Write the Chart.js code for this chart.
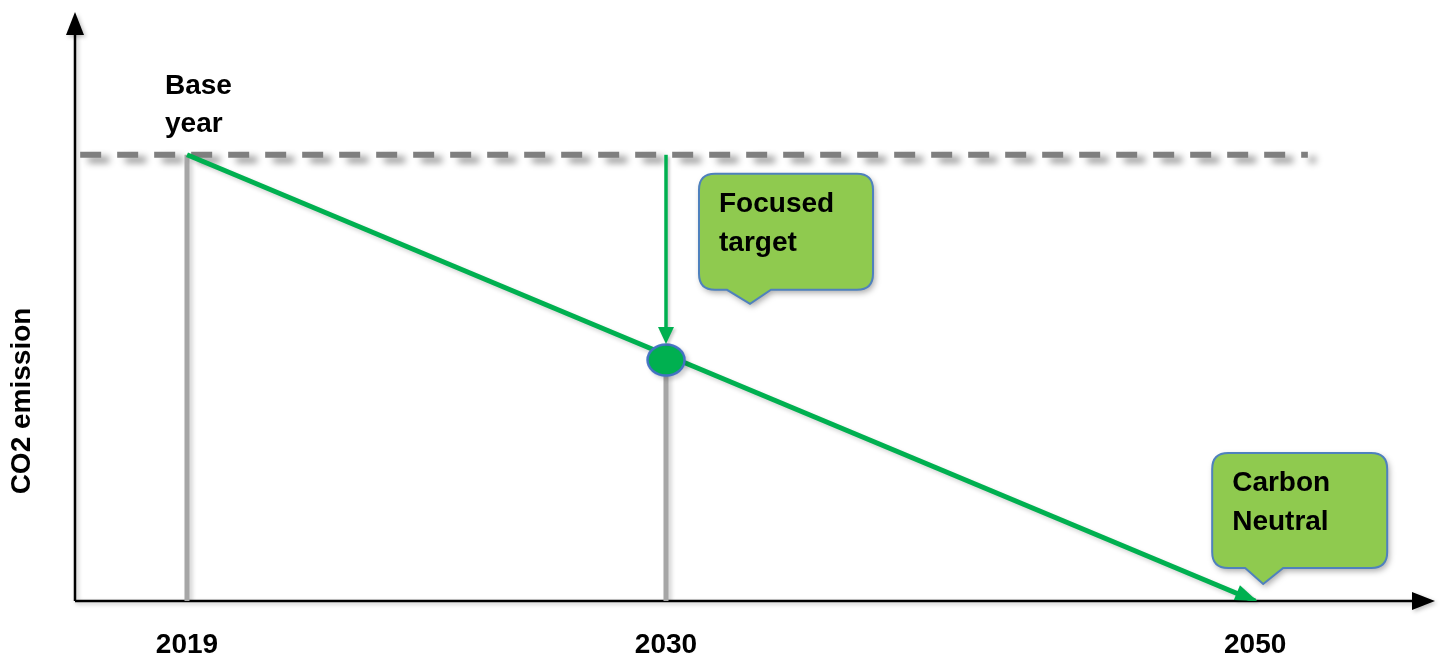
<!DOCTYPE html>
<html>
<head>
  <title>CO2 Emission Pathway</title>
  <script src="https://cdn.jsdelivr.net/npm/chart.js"></script>
  <style>
    html, body {
      margin: 0;
      padding: 0;
      background: white;
    }

    #wrap {
      width: 1447px;
      height: 663px;
    }
  </style>
</head>
<body>

  <div id="wrap"><canvas id="pathChart"></canvas></div>

  <script>
    // milestones along the timeline (spacing is schematic, not to scale in years)
    const years = ['2019', '2030', '2050'];
    const stagePos = [0, 1, 2.23];
    const emissions = [100, 54, 0];
    const labels = [['Base', 'year'], ['Focused', 'target'], ['Carbon', 'Neutral']];
    const refLineEnd = 2.34;

    const GREEN = '#00b050';
    const GREY = '#a6a6a6';
    const FONT = "'Liberation Sans', Arial, sans-serif";

    Chart.defaults.font.family = FONT;

    // oval marker for the 2030 target
    const targetMarker = document.createElement('canvas');
    targetMarker.width = 42;
    targetMarker.height = 36;
    (function () {
      const m = targetMarker.getContext('2d');
      m.beginPath();
      m.ellipse(21, 18, 18.5, 15.5, 0, 0, Math.PI * 2);
      m.fillStyle = GREEN;
      m.fill();
      m.strokeStyle = '#4472c4';
      m.lineWidth = 2.5;
      m.stroke();
    })();

    function arrowHead(ctx, x, y, angle, len, half, color) {
      ctx.save();
      ctx.translate(x, y);
      ctx.rotate(angle);
      ctx.fillStyle = color;
      ctx.beginPath();
      ctx.moveTo(0, 0);
      ctx.lineTo(-len, -half);
      ctx.lineTo(-len, half);
      ctx.closePath();
      ctx.fill();
      ctx.restore();
    }

    function callout(ctx, bx, by, w, h, baseL, baseR, tipX, tipY, lines) {
      const r = 16;
      ctx.save();
      ctx.shadowColor = 'rgba(0,0,0,0.35)';
      ctx.shadowBlur = 6;
      ctx.shadowOffsetX = 2;
      ctx.shadowOffsetY = 3;
      ctx.beginPath();
      ctx.moveTo(bx + r, by);
      ctx.lineTo(bx + w - r, by);
      ctx.quadraticCurveTo(bx + w, by, bx + w, by + r);
      ctx.lineTo(bx + w, by + h - r);
      ctx.quadraticCurveTo(bx + w, by + h, bx + w - r, by + h);
      ctx.lineTo(baseR, by + h);
      ctx.lineTo(tipX, tipY);
      ctx.lineTo(baseL, by + h);
      ctx.lineTo(bx + r, by + h);
      ctx.quadraticCurveTo(bx, by + h, bx, by + h - r);
      ctx.lineTo(bx, by + r);
      ctx.quadraticCurveTo(bx, by, bx + r, by);
      ctx.closePath();
      ctx.fillStyle = '#8fca4f';
      ctx.fill();
      ctx.shadowColor = 'transparent';
      ctx.strokeStyle = '#4f81bd';
      ctx.lineWidth = 2;
      ctx.stroke();
      ctx.restore();

      ctx.save();
      ctx.fillStyle = '#000';
      ctx.font = 'bold 28px ' + FONT;
      ctx.textBaseline = 'alphabetic';
      ctx.fillText(lines[0], bx + 20, by + 38);
      ctx.fillText(lines[1], bx + 20, by + 77);
      ctx.restore();
    }

    // soft drop shadow on the line datasets; the dashed base line gets a heavier one
    const shadowPlugin = {
      id: 'lineShadow',
      beforeDatasetDraw(chart, args) {
        const ctx = chart.ctx;
        ctx.save();
        const strong = args.meta.dataset && args.meta.dataset.options.borderDash.length > 0;
        ctx.shadowColor = strong ? 'rgba(0,0,0,0.45)' : 'rgba(0,0,0,0.18)';
        ctx.shadowBlur = strong ? 7 : 4;
        ctx.shadowOffsetX = strong ? 8 : 3;
        ctx.shadowOffsetY = strong ? 5 : 3;
      },
      afterDatasetDraw(chart) {
        chart.ctx.restore();
      }
    };

    const axesPlugin = {
      id: 'arrowAxes',
      beforeDatasetsDraw(chart) {
        const ctx = chart.ctx;
        const { left, right, top, bottom } = chart.chartArea;
        ctx.save();
        ctx.shadowColor = 'rgba(0,0,0,0.25)';
        ctx.shadowBlur = 4;
        ctx.shadowOffsetX = 2;
        ctx.shadowOffsetY = 2;
        ctx.strokeStyle = '#000';
        ctx.lineWidth = 2.5;
        ctx.beginPath();
        ctx.moveTo(left, bottom);
        ctx.lineTo(left, top + 18);
        ctx.moveTo(left, bottom);
        ctx.lineTo(right - 18, bottom);
        ctx.stroke();
        arrowHead(ctx, left, top, -Math.PI / 2, 23, 9, '#000');
        arrowHead(ctx, right, bottom, 0, 23, 9, '#000');
        ctx.restore();

        // y axis title
        ctx.save();
        ctx.translate(22, 401);
        ctx.rotate(-Math.PI / 2);
        ctx.font = 'bold 28px ' + FONT;
        ctx.fillStyle = '#000';
        ctx.textAlign = 'center';
        ctx.textBaseline = 'middle';
        ctx.fillText('CO2 emission', 0, 0);
        ctx.restore();
      },
      afterDatasetsDraw(chart) {
        const ctx = chart.ctx;
        const px = v => chart.scales.x.getPixelForValue(v);
        const py = v => chart.scales.y.getPixelForValue(v);

        // arrowhead at the end of the reduction path
        const x0 = px(stagePos[0]), y0 = py(emissions[0]);
        const x2 = px(stagePos[2]), y2 = py(emissions[2]);
        ctx.save();
        ctx.shadowColor = 'rgba(0,0,0,0.2)';
        ctx.shadowBlur = 3;
        ctx.shadowOffsetX = 2;
        ctx.shadowOffsetY = 2;
        arrowHead(ctx, x2 + 2, y2, Math.atan2(y2 - y0, x2 - x0), 22, 8, GREEN);

        // drop arrow from the base level down to the 2030 target
        const x1 = px(stagePos[1]);
        const tipY = py(emissions[1]) - 16;
        ctx.strokeStyle = GREEN;
        ctx.lineWidth = 3.5;
        ctx.beginPath();
        ctx.moveTo(x1, py(emissions[0]));
        ctx.lineTo(x1, tipY - 14);
        ctx.stroke();
        arrowHead(ctx, x1, tipY, Math.PI / 2, 17, 8, GREEN);
        ctx.restore();

        // base year label
        ctx.save();
        ctx.font = 'bold 28px ' + FONT;
        ctx.fillStyle = '#000';
        ctx.fillText(labels[0][0], x0 - 22, y0 - 61);
        ctx.fillText(labels[0][1], x0 - 22, y0 - 23);
        ctx.restore();

        // callouts
        const ty = py(emissions[0]);
        callout(ctx, x1 + 33, ty + 19, 174, 116, x1 + 61, x1 + 105, x1 + 84, ty + 149, labels[1]);
        const cx = x2 - 43, cy = y2 - 148;
        callout(ctx, cx, cy, 175, 115, cx + 33, cx + 71, cx + 51, cy + 131, labels[2]);
      }
    };

    // Chart.js paints the first dataset last, so the marker is listed first
    const ctx = document.getElementById('pathChart').getContext('2d');
    const pathChart = new Chart(ctx, {
      type: 'scatter',
      data: {
        datasets: [
          {
            data: [{ x: stagePos[1], y: emissions[1] }],
            pointStyle: targetMarker,
            pointRadius: 19
          },
          {
            // reduction path to carbon neutrality
            data: [{ x: stagePos[0], y: emissions[0] }, { x: stagePos[2], y: emissions[2] }],
            showLine: true,
            borderColor: GREEN,
            borderWidth: 5,
            pointRadius: 0
          },
          {
            data: [{ x: stagePos[0], y: 0 }, { x: stagePos[0], y: emissions[0] }],
            showLine: true,
            borderColor: GREY,
            borderWidth: 5,
            pointRadius: 0
          },
          {
            data: [{ x: stagePos[1], y: 0 }, { x: stagePos[1], y: emissions[1] }],
            showLine: true,
            borderColor: GREY,
            borderWidth: 5,
            pointRadius: 0
          },
          {
            // base-year emission level
            data: [{ x: -0.223, y: emissions[0] }, { x: refLineEnd, y: emissions[0] }],
            showLine: true,
            borderColor: '#7f7f7f',
            borderWidth: 6,
            borderDash: [21, 16],
            pointRadius: 0
          }
        ]
      },
      options: {
        responsive: true,
        maintainAspectRatio: false,
        animation: false,
        layout: {
          autoPadding: false,
          padding: { top: 12, right: 12, left: 75, bottom: 3 }
        },
        plugins: {
          legend: { display: false },
          tooltip: { enabled: false }
        },
        scales: {
          x: {
            type: 'linear',
            min: -0.2338,
            max: 2.6054,
            grid: { display: false, drawTicks: false },
            border: { display: false },
            afterBuildTicks: scale => {
              scale.ticks = stagePos.map(v => ({ value: v }));
            },
            afterFit: scale => {
              scale.height = 59;
            },
            ticks: {
              autoSkip: false,
              maxRotation: 0,
              padding: 27,
              color: '#000',
              font: { size: 28, weight: 'bold' },
              callback: value => years[stagePos.indexOf(value)]
            }
          },
          y: {
            display: false,
            min: 0,
            max: 132
          }
        }
      },
      plugins: [shadowPlugin, axesPlugin]
    });
  </script>

</body>
</html>
